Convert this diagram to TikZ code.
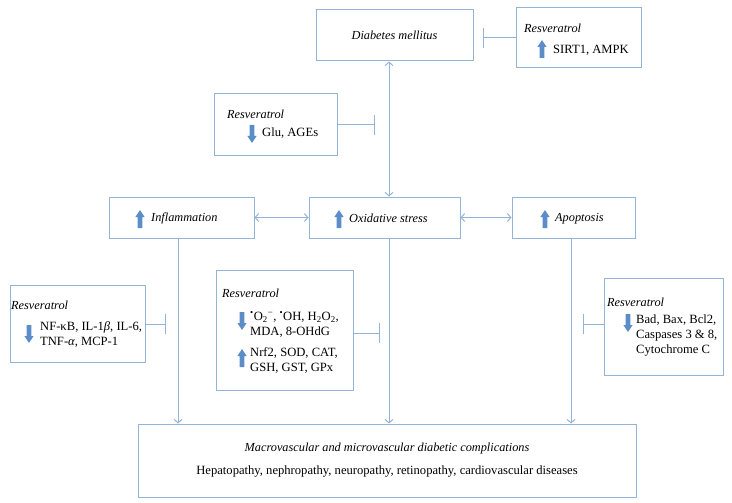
\documentclass[tikz,border=0pt]{standalone}
\usepackage{fontspec}
\setmainfont{Liberation Serif}
\usetikzlibrary{arrows.meta}
\definecolor{boxc}{HTML}{95B3D7}
\definecolor{arrc}{HTML}{5B8DC9}
\tikzset{
  bx/.style={draw=boxc, line width=1pt, inner sep=0pt},
  lbl/.style={inner sep=0pt, anchor=west, align=left, font=\fontsize{12.6}{15}\selectfont},
  ilbl/.style={inner sep=0pt, anchor=west, align=left, font=\fontsize{12.3}{15}\selectfont\itshape},
  clbl/.style={inner sep=0pt, font=\fontsize{12.6}{15}\selectfont},
  conn/.style={draw=boxc, line width=1pt},
  tip/.style={conn, -{Straight Barb[length=3.5pt,width=8pt]}},
  biarr/.style={conn, {Straight Barb[length=3.5pt,width=8pt]}-{Straight Barb[length=3.5pt,width=8pt]}},
  inh/.style={conn, -{Bar[width=20pt]}},
  uparr/.pic={\fill[arrc] (0,-9) -- (4.6,-2) -- (2.4,-2) -- (2.4,9) -- (-2.4,9) -- (-2.4,-2) -- (-4.6,-2) -- cycle;},
  dnarr/.pic={\fill[arrc] (0,9) -- (4.6,2) -- (2.4,2) -- (2.4,-9) -- (-2.4,-9) -- (-2.4,2) -- (-4.6,2) -- cycle;}
}
\begin{document}
\begin{tikzpicture}[x=1pt,y=-1pt]
\useasboundingbox (0,0) rectangle (732,503);

% top
\node[bx, minimum width=157pt, minimum height=51pt, font=\fontsize{12.3}{15}\selectfont\itshape] (diab) at (394.5,35.5) {Diabetes mellitus};

\node[bx, minimum width=125pt, minimum height=60pt] (sirtbox) at (578.5,38) {};
\node[ilbl] (sirtres) at (524,28) {Resveratrol};
\pic at (542,49) {uparr};
\node[lbl] (sirttxt) at (553,50) {SIRT1, AMPK};

\node[bx, minimum width=123pt, minimum height=62pt] (glubox) at (275.5,125) {};
\node[ilbl] (glures) at (227,114) {Resveratrol};
\pic at (252,134) {dnarr};
\node[lbl] (glutxt) at (262,133) {Glu, AGEs};

% row 2
\node[bx, minimum width=145pt, minimum height=41pt] (infl) at (181.5,217.5) {};
\pic at (140,219) {uparr};
\node[ilbl] (infltxt) at (151,218.5) {Inflammation};

\node[bx, minimum width=151pt, minimum height=41pt] (ox) at (384.5,217.5) {};
\pic at (339,219) {uparr};
\node[ilbl] (oxtxt) at (349,218.5) {Oxidative stress};

\node[bx, minimum width=123pt, minimum height=41pt] (apop) at (573.5,217.5) {};
\pic at (545,219) {uparr};
\node[ilbl] (apoptxt) at (555,218.5) {Apoptosis};

% resveratrol boxes row 3
\node[bx, minimum width=135pt, minimum height=77pt] (nfbox) at (77.5,323.5) {};
\node[ilbl] (nfres) at (11,305) {Resveratrol};
\pic at (29,334) {dnarr};
\node[lbl] (nftxt) at (40,335) {NF-κB, IL-1{\itshape β}, IL-6,\\TNF-{\itshape α}, MCP-1};

\node[bx, minimum width=137pt, minimum height=120pt] (rosbox) at (284.5,330) {};
\node[ilbl] (rosres) at (222,293) {Resveratrol};
\pic at (242,321) {dnarr};
\node[lbl] (rostxt1) at (250,324.5) {\textsuperscript{•}O\textsubscript{2}\textsuperscript{−}, \textsuperscript{•}OH, H\textsubscript{2}O\textsubscript{2},\\MDA, 8-OHdG};
\pic at (242,358) {uparr};
\node[lbl] (rostxt2) at (250,360.5) {Nrf2, SOD, CAT,\\GSH, GST, GPx};

\node[bx, minimum width=119pt, minimum height=97pt] (apbox) at (663.5,326.5) {};
\node[ilbl] (apres) at (607,302) {Resveratrol};
\pic at (628,323) {dnarr};
\node[lbl] (aptxt) at (636,335) {Bad, Bax, Bcl2,\\Caspases 3 \& 8,\\Cytochrome C};

% bottom
\node[bx, minimum width=498pt, minimum height=73pt] (bot) at (387,460.5) {};
\node[clbl, font=\fontsize{12.3}{15}\selectfont\itshape] (botit) at (387,449) {Macrovascular and microvascular diabetic complications};
\node[clbl] (botrm) at (387,471) {Hepatopathy, nephropathy, neuropathy, retinopathy, cardiovascular diseases};

% connector helper coordinates
\coordinate (vx) at (389,0);
\coordinate (cx1) at (178,0);
\coordinate (cx3) at (571,0);
\coordinate (b1) at (483,38);
\coordinate (b2) at (375,125);
\coordinate (b3) at (166,324);
\coordinate (b4) at (380,333);
\coordinate (b5) at (583,324);

\draw[biarr] (vx |- diab.south) -- (vx |- ox.north);
\draw[biarr] (infl.east) -- (ox.west);
\draw[biarr] (ox.east) -- (apop.west);
\draw[tip] (cx1 |- infl.south) -- (cx1 |- bot.north);
\draw[tip] (vx |- ox.south) -- (vx |- bot.north);
\draw[tip] (cx3 |- apop.south) -- (cx3 |- bot.north);

\draw[inh] (sirtbox.west |- b1) -- (b1);
\draw[inh] (glubox.east |- b2) -- (b2);
\draw[inh] (nfbox.east |- b3) -- (b3);
\draw[inh] (rosbox.east |- b4) -- (b4);
\draw[inh] (apbox.west |- b5) -- (b5);
\end{tikzpicture}
\end{document}
